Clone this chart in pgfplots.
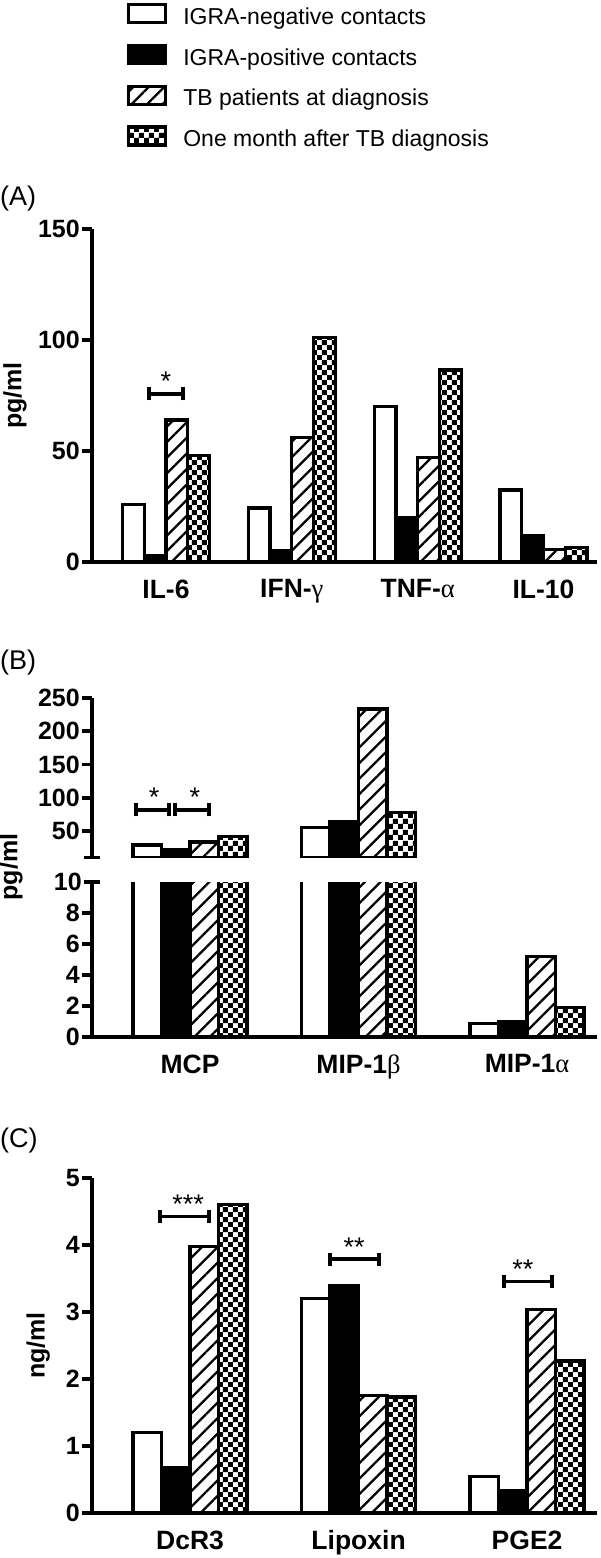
\documentclass[border=0pt]{standalone}
\usepackage{fontspec}
\setmainfont{Liberation Sans}
\newfontfamily\grk{Liberation Serif}
\usepackage{pgfplots}
\pgfplotsset{compat=1.18}
\usetikzlibrary{patterns,patterns.meta}

\pgfdeclarepatternformonly{checker}{\pgfpointorigin}{\pgfpoint{10.4pt}{10.4pt}}{\pgfpoint{10.4pt}{10.4pt}}{%
  \pgfpathrectangle{\pgfpointorigin}{\pgfpoint{5.2pt}{5.2pt}}%
  \pgfpathrectangle{\pgfpoint{5.2pt}{5.2pt}}{\pgfpoint{5.2pt}{5.2pt}}%
  \pgfusepath{fill}}

\tikzset{
  brk/.style={line width=3.2pt},
  star/.style={font=\fontsize{27}{27}\selectfont, anchor=base, yshift=3pt, inner sep=0pt},
}
% significance bracket: x1, x2, y, x of stars, stars
\newcommand{\sig}[5]{%
  \draw[brk] (axis cs:#1,#3) -- (axis cs:#2,#3);
  \draw[brk] ([yshift=-6.5pt]axis cs:#1,#3) -- ([yshift=6.5pt]axis cs:#1,#3);
  \draw[brk] ([yshift=-6.5pt]axis cs:#2,#3) -- ([yshift=6.5pt]axis cs:#2,#3);
  \node[star] at (axis cs:#4,#3) {#5};
}
\pgfplotsset{
  sA/.style={draw=black, fill=white, line width=3.3pt},
  sB/.style={draw=black, fill=black, line width=3.3pt},
  sC/.style={draw=black, fill=white, postaction={pattern={Lines[angle=45,distance=11pt,line width=2.3pt]}}, line width=3.3pt},
  sD/.style={draw=black, fill=white, postaction={pattern=checker}, line width=3.3pt},
  panel/.style={
    scale only axis,
    ybar=0pt,
    axis x line*=bottom, axis y line*=left,
    axis line style={line width=3.6pt, -},
    ytick style={line width=3.6pt, black},
    major tick length=10pt,
    tick align=outside,
    xtick style={draw=none},
    xtick={1,2,3,4},
    tick label style={font=\fontsize{25}{25}\selectfont\bfseries},
    yticklabel style={inner sep=2pt},
    xticklabel style={font=\fontsize{26.5}{26.5}\selectfont\bfseries, yshift=-4pt},
    /pgf/number format/assume math mode=true,
    ylabel style={font=\fontsize{25}{25}\selectfont\bfseries, inner sep=0pt, anchor=south},
    clip=true,
  },
}

\begin{document}
\begin{tikzpicture}[x=1pt,y=1pt]
\path[use as bounding box] (0,0) rectangle (600,-1558);

\node[anchor=west, font=\fontsize{27}{27}\selectfont, inner sep=0pt] at (0,-199) {(A)};
\node[anchor=west, font=\fontsize{27}{27}\selectfont, inner sep=0pt] at (0,-663) {(B)};
\node[anchor=west, font=\fontsize{27}{27}\selectfont, inner sep=0pt] at (0,-1140) {(C)};

% ---------------- Panel A ----------------
\begin{axis}[panel,
  at={(92pt,-562pt)}, anchor=south west,
  width=505pt, height=333pt,
  xmin=0.412, xmax=4.425, ymin=0, ymax=150,
  ytick={0,50,100,150},
  bar width=21.75pt,
  xticklabels={IL-6, IFN-{\grk\mdseries γ}, TNF-{\grk\mdseries α}, IL-10},
  ylabel={pg/ml},
  ylabel style={at={(axis description cs:-0.129,0.5)}},
  legend cell align=left,
  legend style={at={(axis description cs:0.069,1.679)}, anchor=north west,
    draw=none, fill=none, inner sep=0pt,
    font=\fontsize{23}{23}\selectfont, row sep=16pt,
    /tikz/every odd column/.append style={column sep=14pt}},
  legend image code/.code={\draw[#1] (0pt,-6pt) rectangle (37pt,12pt);},
]
\addplot[sA] coordinates {(1,26) (2,24.3) (3,70) (4,32.5)};
\addplot[sB] coordinates {(1,3) (2,5) (3,20) (4,12)};
\addplot[sC] coordinates {(1,64) (2,56) (3,47) (4,5.5)};
\addplot[sD] coordinates {(1,48) (2,101) (3,86.5) (4,6.5)};
\legend{IGRA-negative contacts, IGRA-positive contacts, TB patients at diagnosis, One month after TB diagnosis}
\sig{0.865}{1.135}{75.7}{1}{*}
\end{axis}

% ---------------- Panel B upper ----------------
\begin{axis}[panel,
  at={(92pt,-857.6pt)}, anchor=south west,
  width=505pt, height=159.6pt,
  axis x line=none,
  xmin=0.418, xmax=3.415, ymin=10, ymax=250,
  ytick={50,100,150,200,250},
  extra y ticks={10}, extra y tick labels={{}},
  extra y tick style={tick align=center, major tick length=16pt},
  bar width=28.5pt,
  ylabel={pg/ml},
  ylabel style={at={(axis description cs:-0.137,-0.059)}},
]
\addplot[sA] coordinates {(1,29) (2,55.5)};
\addplot[sB] coordinates {(1,22) (2,64)};
\addplot[sC] coordinates {(1,33.5) (2,233.5)};
\addplot[sD] coordinates {(1,42) (2,77.8)};
\sig{0.679}{0.875}{81.6}{0.786}{*}
\sig{0.911}{1.112}{81.6}{1.029}{*}
\end{axis}

% ---------------- Panel B lower ----------------
\begin{axis}[panel,
  at={(92pt,-1037pt)}, anchor=south west,
  width=505pt, height=155pt,
  xmin=0.418, xmax=3.415, ymin=0, ymax=10,
  ytick={0,2,4,6,8},
  extra y ticks={10},
  extra y tick style={tick align=center, major tick length=16pt},
  bar width=28.5pt,
  xtick={1,2,3},
  xticklabels={MCP, MIP-1{\grk\mdseries β}, MIP-1{\grk\mdseries α}},
]
\addplot[sA] coordinates {(1,29) (2,55.5) (3,0.85)};
\addplot[sB] coordinates {(1,22) (2,64) (3,1.0)};
\addplot[sC] coordinates {(1,33.5) (2,233.5) (3,5.2)};
\addplot[sD] coordinates {(1,42) (2,77.8) (3,1.9)};
\end{axis}

% ---------------- Panel C ----------------
\begin{axis}[panel,
  at={(92pt,-1513pt)}, anchor=south west,
  width=505pt, height=335pt,
  xmin=0.418, xmax=3.415, ymin=0, ymax=5,
  ytick={0,1,2,3,4,5},
  bar width=28.5pt,
  xtick={1,2,3},
  xticklabels={DcR3, Lipoxin, PGE2},
  ylabel={ng/ml},
  ylabel style={at={(axis description cs:-0.083,0.5)}},
]
\addplot[sA] coordinates {(1,1.2) (2,3.2) (3,0.54)};
\addplot[sB] coordinates {(1,0.67) (2,3.4) (3,0.34)};
\addplot[sC] coordinates {(1,3.98) (2,1.75) (3,3.04)};
\addplot[sD] coordinates {(1,4.6) (2,1.73) (3,2.27)};
\sig{0.822}{1.112}{4.42}{0.988}{***}
\sig{1.830}{2.121}{3.79}{1.973}{**}
\sig{2.863}{3.148}{3.46}{2.975}{**}
\end{axis}
\end{tikzpicture}
\end{document}
